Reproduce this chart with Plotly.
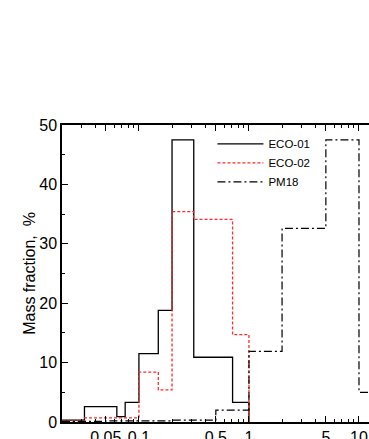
import plotly.graph_objects as go

# Bin edges (mm) and mass fractions (%)
eco_edges = [0.02, 0.032, 0.063, 0.075, 0.1, 0.15, 0.2, 0.315, 0.71, 1.0]
eco01_vals = [0.3, 2.6, 0.9, 3.3, 11.5, 18.8, 47.5, 10.9, 3.3]
eco02_vals = [0.2, 0.7, 0.7, 0.7, 8.4, 5.4, 35.4, 34.1, 14.7]
pm18_edges = [0.02, 0.05, 0.1, 0.2, 0.5, 1.0, 2.0, 5.0, 10.0, 20.0]
pm18_vals = [0.1, 0.2, 0.2, 0.3, 2.0, 11.9, 32.6, 47.5, 5.0]

tick_vals = [0.05, 0.1, 0.5, 1, 5, 10]
tick_text = ["0.05", "0.1", "0.5", "1", "5", "10"]
minor_vals = [m * d for d in (0.01, 0.1, 1, 10) for m in range(2, 10)]

FONT = "Liberation Sans Narrow, Liberation Sans, Arial, sans-serif"


def step_xy(edges, vals):
    return list(edges), list(vals) + [0.0]


fig = go.Figure()
x, y = step_xy(eco_edges, eco01_vals)
fig.add_trace(go.Scatter(x=x, y=y, mode="lines", name="ECO-01",
                         line=dict(shape="hv", color="black", width=1.3)))
x, y = step_xy(eco_edges, eco02_vals)
fig.add_trace(go.Scatter(x=x, y=y, mode="lines", name="ECO-02",
                         line=dict(shape="hv", color="#ff2a2a", width=1.3, dash="3px,2px")))
x, y = step_xy(pm18_edges, pm18_vals)
fig.add_trace(go.Scatter(x=x, y=y, mode="lines", name="PM18",
                         line=dict(shape="hv", color="black", width=1.2, dash="8px,3px,2px,3px")))

fig.update_layout(
    width=369, height=439,
    margin=dict(l=62, r=0, t=125, b=17),
    paper_bgcolor="white", plot_bgcolor="white",
    font=dict(family=FONT, color="black", size=15),
    showlegend=True,
    legend=dict(x=0.49, y=0.985, xanchor="left", yanchor="top",
                bgcolor="rgba(0,0,0,0)", font=dict(size=11.5, family=FONT),
                tracegroupgap=0, itemwidth=46),
)
fig.update_xaxes(
    type="log", range=[-1.699, 1.091], automargin=False,
    tickvals=tick_vals, ticktext=tick_text,
    ticks="inside", ticklen=6, tickwidth=1, tickcolor="black",
    minor=dict(tickvals=minor_vals, ticks="inside", ticklen=3, tickcolor="black", showgrid=False),
    showline=True, linecolor="black", linewidth=1.5, mirror="ticks",
    showgrid=False, zeroline=False,
    tickfont=dict(size=16, family=FONT),
)
fig.update_yaxes(
    range=[0, 50], tickvals=[0, 10, 20, 30, 40, 50], automargin=False,
    ticks="inside", ticklen=6, tickwidth=1, tickcolor="black",
    minor=dict(tickvals=[5, 15, 25, 35, 45], ticks="inside", ticklen=3, tickcolor="black", showgrid=False),
    showline=True, linecolor="black", linewidth=1.5, mirror=False,
    showgrid=False, zeroline=False,
    tickfont=dict(size=16, family=FONT),
    title=dict(text="Mass fraction,  %", font=dict(size=16, family=FONT), standoff=0),
)

fig.write_html("out.html")
